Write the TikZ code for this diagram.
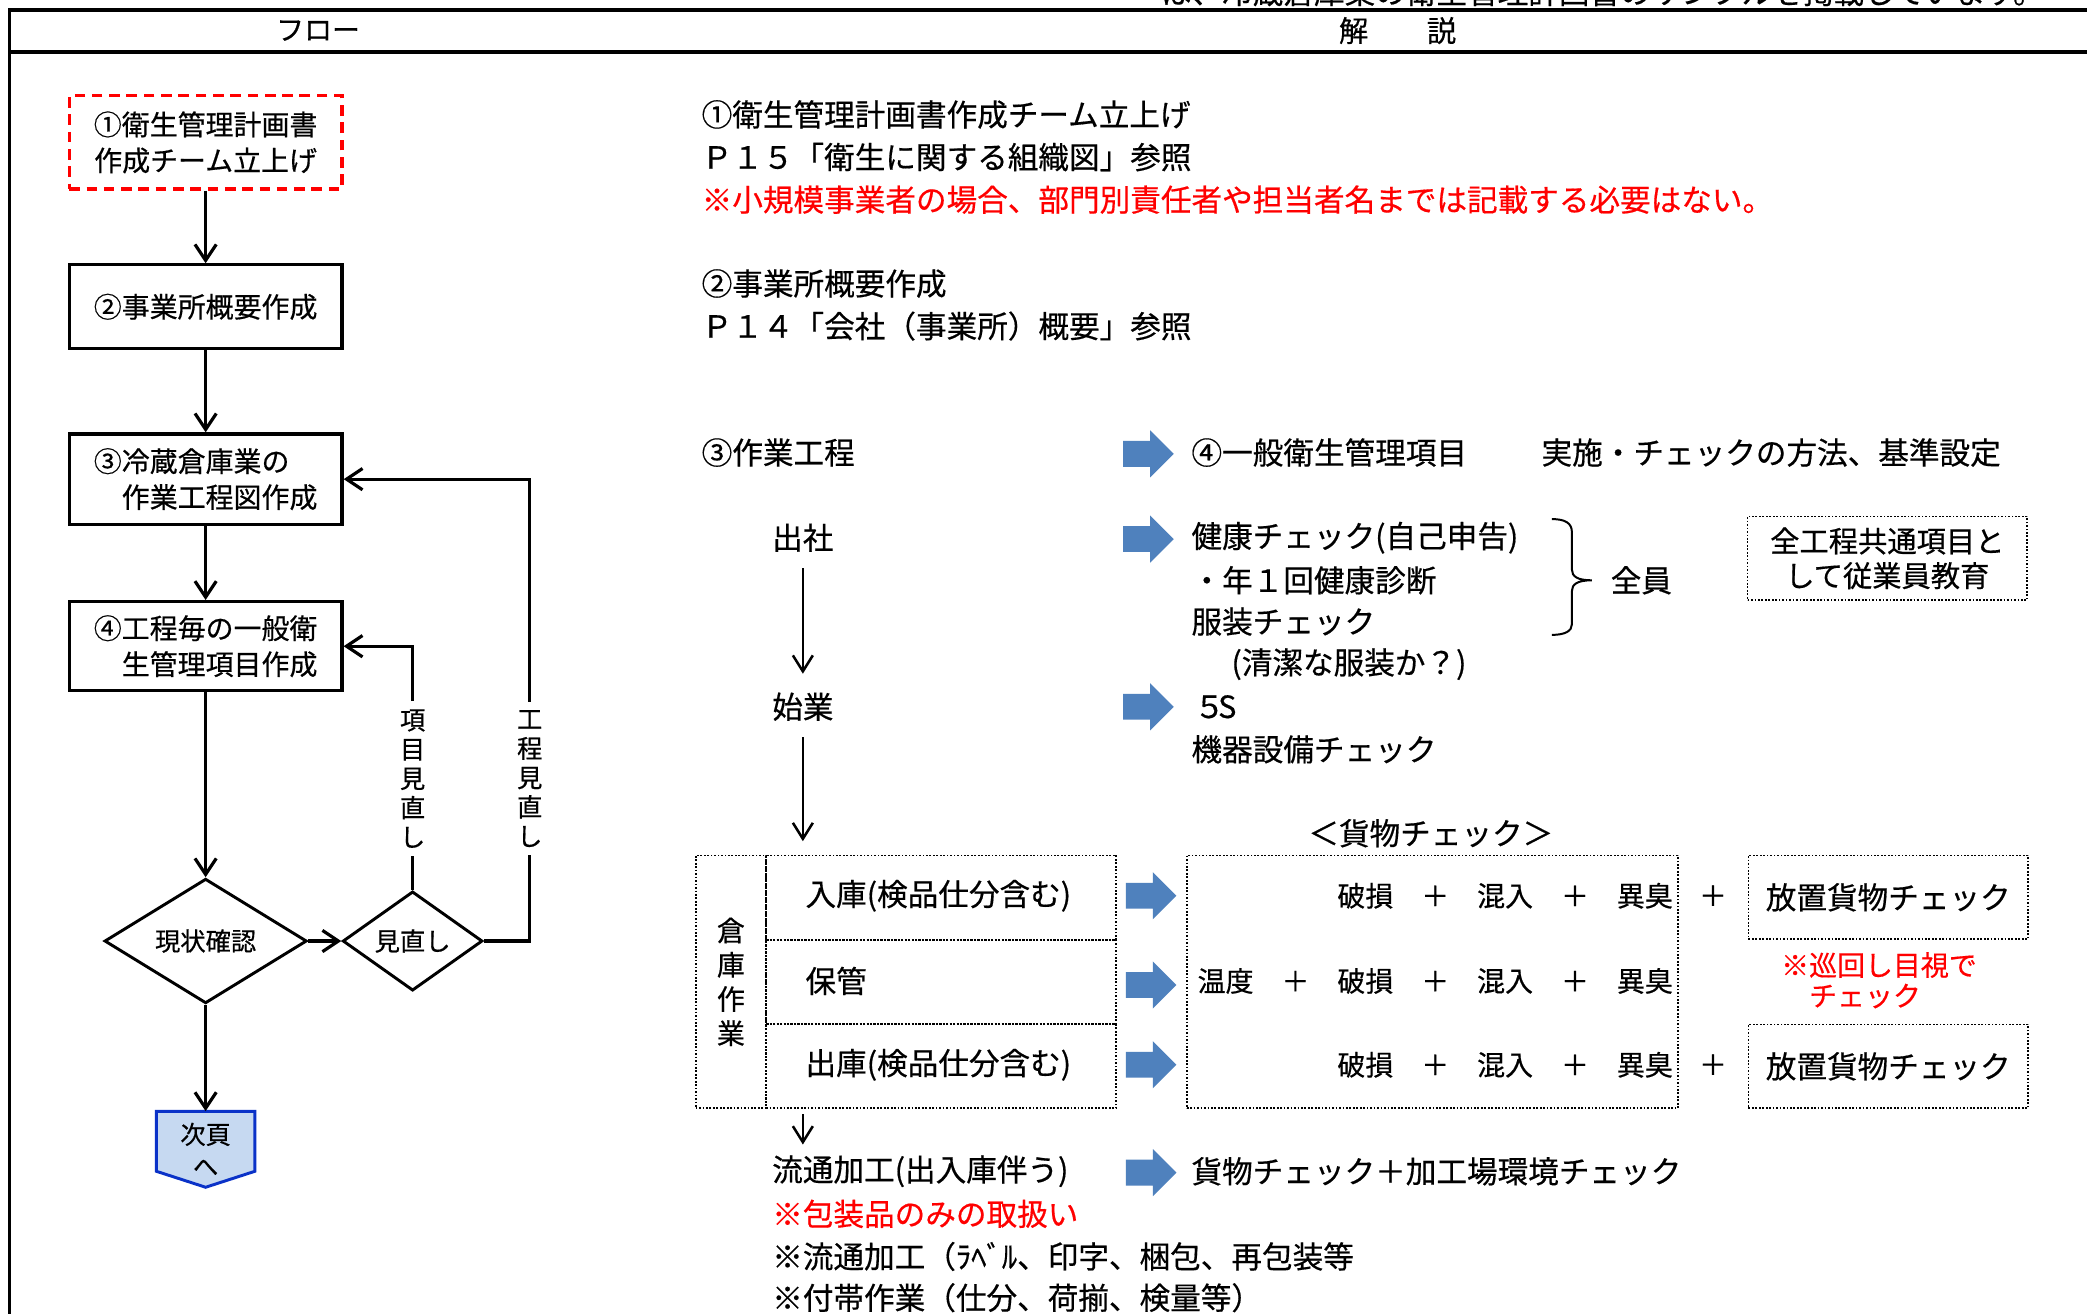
\documentclass[tikz,border=0pt]{standalone}
\usepackage{fontspec}
\setmainfont{Noto Sans CJK JP}[FakeBold=0.5]
\usetikzlibrary{arrows.meta,shapes.geometric,shapes.arrows}
\definecolor{abl}{HTML}{4F81BD}
\definecolor{nfill}{HTML}{C6D9F1}
\definecolor{ndraw}{HTML}{0A32C8}
\newcommand\fsz[2]{\fontsize{#1}{#2}\selectfont}
\begin{document}
\begin{tikzpicture}[x=1pt,y=-1pt,
  every node/.style={inner sep=0pt},
  T/.style={anchor=west,font=\fsz{23}{27}},
  R/.style={T,text=red},
  fbox/.style={draw,line width=2.4pt,minimum width=205pt,text width=168pt,align=left,font=\fsz{21}{27}},
  dia/.style={diamond,draw,line width=2.2pt,font=\fsz{19}{22}},
  vlab/.style={align=center,font=\fsz{19}{22},inner sep=6pt},
  fl/.style={line width=2.4pt},
  farr/.style={fl,-{Straight Barb[length=12pt,width=16pt]}},
  sarr/.style={line width=1.9pt,-{Straight Barb[length=12pt,width=15pt]}},
  dotbox/.style={draw,line width=1.3pt,dash pattern=on 1.3pt off 1.3pt},
  barrow/.style={single arrow,fill=abl,minimum height=38pt,single arrow head extend=8pt,inner sep=0pt,inner xsep=0pt}
]
\useasboundingbox (0,0) rectangle (1568,987);
\clip (0,0) rectangle (1568,987);
\fill[white] (0,0) rectangle (1568,987);

% header
\node[anchor=west,font=\fsz{23}{27}] (top) at (872,-6) {は、冷蔵倉庫業の衛生管理計画書のサンプルを掲載しています。};
\draw[line width=2.4pt] (7,7.5) -- (1580,7.5);
\draw[line width=2.4pt] (7,39) -- (1580,39);
\draw[line width=2pt] (7,6.3) -- (7,1000);
\node[font=\fsz{21}{25}] (hf) at (239,23) {フロー};
\node[font=\fsz{22}{25}] (hk) at (1050,23) {解　　説};

% left flow
\node[fbox,draw=red,dash pattern=on 8pt off 5pt,align=center,minimum height=70pt] (b1) at (154.5,107) {①衛生管理計画書\\作成チーム立上げ};
\node[fbox,minimum height=63pt] (b2) at (154.5,230.5) {②事業所概要作成};
\node[fbox,minimum height=68pt] (b3) at (154.5,360) {③冷蔵倉庫業の\\　作業工程図作成};
\node[fbox,minimum height=67pt] (b4) at (154.5,485.5) {④工程毎の一般衛\\　生管理項目作成};
\node[dia,minimum width=152pt,minimum height=66pt] (d1) at (154.5,707) {現状確認};
\node[dia,minimum width=105pt,minimum height=66pt] (d2) at (310,707) {見直し};
\node[vlab] (l1) at (310,585) {項\\目\\見\\直\\し};
\node[vlab] (l2) at (398,585) {工\\程\\見\\直\\し};
\filldraw[fill=nfill,draw=ndraw,line width=2.2pt] (117.5,835) -- (191.5,835) -- (191.5,880) -- (154.5,892) -- (117.5,880) -- cycle;
\node[font=\fsz{19}{24},align=center,minimum width=74pt,minimum height=57pt] (nxt) at (154.5,863.5) {次頁\\へ};

\draw[farr] (b1) -- (b2);
\draw[farr] (b2) -- (b3);
\draw[farr] (b3) -- (b4);
\draw[farr] (b4) -- (d1);
\draw[farr] (d1) -- (d2);
\draw[farr] (d1) -- (nxt.north);
\draw[fl] (d2.north) -- (l1.south);
\draw[farr] (l1.north) |- (b4.east);
\draw[fl] (d2.east) -| (l2.south);
\draw[farr] (l2.north) |- (b3.east);

% right: explanation
\node[T] (r1) at (527,86) {①衛生管理計画書作成チーム立上げ};
\node[T] (r2) at (527,118) {Ｐ１５「衛生に関する組織図」参照};
\node[R] (r3) at (527,150) {※小規模事業者の場合、部門別責任者や担当者名までは記載する必要はない。};
\node[T] (r4) at (527,213) {②事業所概要作成};
\node[T] (r5) at (527,245) {Ｐ１４「会社（事業所）概要」参照};

\node[T] (r6) at (527,340) {③作業工程};
\node[barrow] (a0) at (858,341) {\rule{0pt}{19pt}};
\node[T] (r7) at (895,340) {④一般衛生管理項目};
\node[T] (r8) at (1158,340) {実施・チェックの方法、基準設定};

\node[T] (s1) at (580,404) {出社};
\node[barrow] (a1) at (858,405) {\rule{0pt}{19pt}};
\node[T] (k1) at (895,404) {健康チェック(自己申告)};
\node[T] (k2) at (895,436) {・年１回健康診断};
\node[T] (k3) at (895,467) {服装チェック};
\node[T] (k4) at (925,499) {(清潔な服装か？)};
\draw[line width=1.5pt] (1166,390) .. controls (1176,390) and (1181,393) .. (1181,400) -- (1181,428) .. controls (1181,433) and (1185,436) .. (1196,436) .. controls (1185,436) and (1181,439) .. (1181,444) -- (1181,469) .. controls (1181,474) and (1176,477) .. (1166,477);
\node[T] (zen) at (1210,436) {全員};
\node[dotbox,minimum width=210pt,minimum height=63pt,align=center,font=\fsz{22}{26}] (kyo) at (1418,419.5) {全工程共通項目と\\して従業員教育};

\node[T] (s2) at (580,531) {始業};
\node[barrow] (a2) at (858,531) {\rule{0pt}{19pt}};
\node[T] (g1) at (897,531) {５\hspace{-5pt}S};
\node[T] (g2) at (895,563) {機器設備チェック};

\node[font=\fsz{23}{27}] (kc) at (1075,626) {＜貨物チェック＞};

% warehouse table
\node[dotbox,anchor=north west,minimum width=53pt,minimum height=190pt,align=center,font=\fsz{21}{25.7}] (wl) at (522,642) {倉\\庫\\作\\業};
\node[dotbox,anchor=north west,minimum width=263pt,minimum height=63.33pt] (ra) at (575,642) {};
\node[dotbox,anchor=north west,minimum width=263pt,minimum height=63.33pt] (rb) at (575,705.33) {};
\node[dotbox,anchor=north west,minimum width=263pt,minimum height=63.33pt] (rc) at (575,768.67) {};
\node[T] (ta) at (605,673) {入庫(検品仕分含む)};
\node[T] (tb) at (605,737) {保管};
\node[T] (tc) at (605,800) {出庫(検品仕分含む)};
\node[barrow] (a3) at (860,673) {\rule{0pt}{19pt}};
\node[barrow] (a4) at (860,740) {\rule{0pt}{19pt}};
\node[barrow] (a5) at (860,800) {\rule{0pt}{19pt}};

\node[dotbox,anchor=north west,minimum width=369pt,minimum height=190pt] (ck) at (891,642) {};
\node[anchor=east,font=\fsz{21}{25}] (c1) at (1257,673) {破損　＋　混入　＋　異臭};
\node[anchor=east,font=\fsz{21}{25}] (c2) at (1257,737) {温度　＋　破損　＋　混入　＋　異臭};
\node[anchor=east,font=\fsz{21}{25}] (c3) at (1257,800) {破損　＋　混入　＋　異臭};
\node[font=\fsz{21}{25}] (pl1) at (1287,673) {＋};
\node[font=\fsz{21}{25}] (pl2) at (1287,800) {＋};
\node[dotbox,anchor=north west,minimum width=210pt,minimum height=63pt,font=\fsz{23}{27}] (p1) at (1313,642) {放置貨物チェック};
\node[dotbox,anchor=north west,minimum width=210pt,minimum height=63pt,font=\fsz{23}{27}] (p2) at (1313,769) {放置貨物チェック};
\node[anchor=west,align=left,text=red,font=\fsz{21}{23}] (jun) at (1338,736.5) {※巡回し目視で\\　チェック};

\node[T] (s3) at (580,880) {流通加工(出入庫伴う)};
\node[barrow] (a6) at (860,881) {\rule{0pt}{19pt}};
\node[T] (h1) at (895,880) {貨物チェック＋加工場環境チェック};
\node[R] (n1) at (580,912) {※包装品のみの取扱い};
\node[T] (n2) at (580,944) {※流通加工（ﾗﾍﾞﾙ、印字、梱包、再包装等};
\node[T] (n3) at (580,975) {※付帯作業（仕分、荷揃、検量等）};

\draw[sarr,shorten <=12pt,shorten >=14pt] (s1.south) -- (s2.north);
\draw[sarr,shorten <=12pt,shorten >=10pt] (s2.south) -- (s2.south |- wl.north);
\draw[sarr,shorten <=4pt,shorten >=8pt] (s2.south |- wl.south) -- (s2.south |- s3.north);
\end{tikzpicture}
\end{document}
